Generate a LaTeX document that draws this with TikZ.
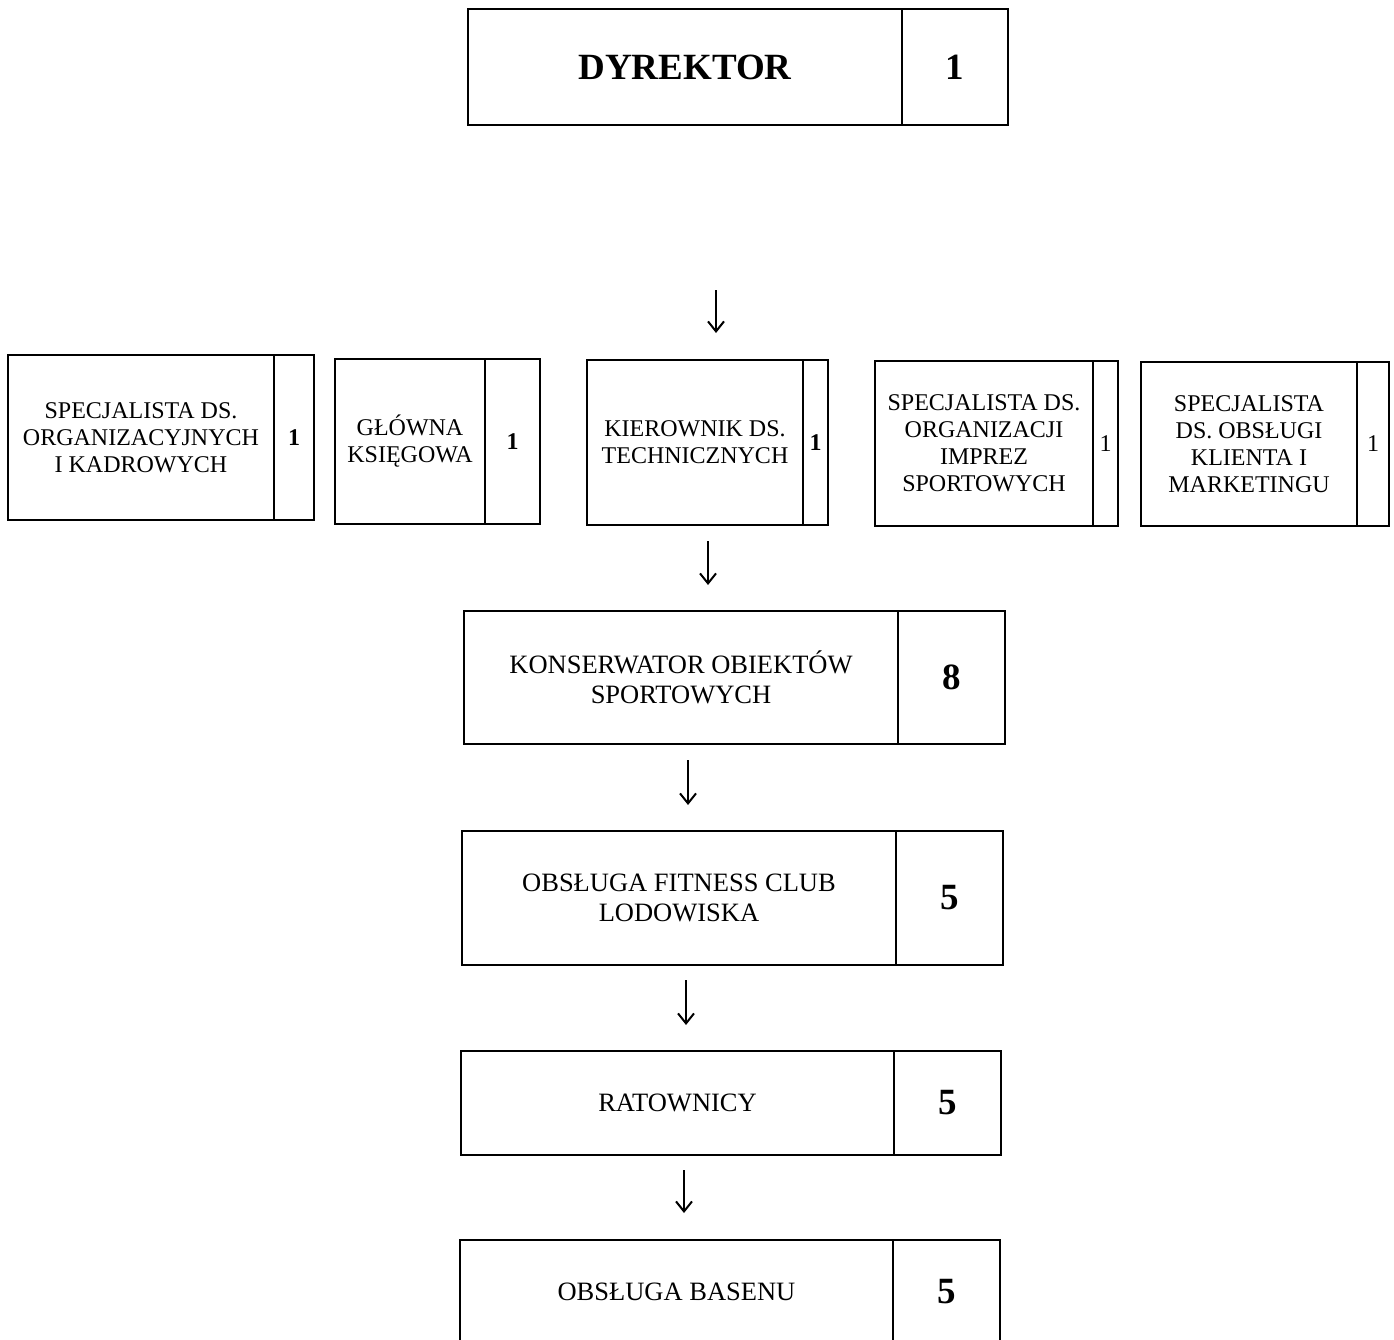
\documentclass[tikz,border=0pt]{standalone}
\usepackage{fontspec}
\setmainfont{Liberation Serif}
\usetikzlibrary{positioning,arrows.meta}
\tikzset{
  unitbox/.style={draw, line width=1.4pt, inner sep=0pt, outer sep=0pt, align=center},
  numbox/.style={draw, line width=1.4pt, inner sep=0pt, outer sep=0pt},
  downarrow/.style={line width=1.8pt, -{Straight Barb[length=10pt,width=16pt,line width=2pt]}},
  rowfont/.style={font=\fontsize{24}{27}\selectfont},
  rowbold/.style={font=\fontsize{24}{27}\selectfont\bfseries},
  colfont/.style={font=\fontsize{26.5}{30}\selectfont},
  bigfont/.style={font=\fontsize{37}{40}\selectfont\bfseries},
}
\begin{document}
\begin{tikzpicture}[x=1pt,y=-1pt]
    \clip (0,0) rectangle (1394,1340);
    % dyrektor
    \node[unitbox,bigfont,minimum width=434pt,minimum height=116pt] (dyr) at (685,67) {DYREKTOR};
    \node[numbox,bigfont,minimum width=106pt,minimum height=116pt,right=0pt of dyr] (dyrN) {1};
    % stanowiska samodzielne
    \node[unitbox,rowfont,minimum width=266pt,minimum height=165pt] (spk) at (141,437.5) {SPECJALISTA DS.\\ORGANIZACYJNYCH\\I KADROWYCH};
    \node[numbox,rowbold,minimum width=40pt,minimum height=165pt,right=0pt of spk] (spkN) {1};
    \node[unitbox,rowfont,minimum width=150pt,minimum height=165pt] (ksg) at (410,441.5) {GŁÓWNA\\KSIĘGOWA};
    \node[numbox,rowbold,minimum width=55pt,minimum height=165pt,right=0pt of ksg] (ksgN) {1};
    \node[unitbox,rowfont,minimum width=216pt,minimum height=165pt] (kdt) at (695,442.5) {KIEROWNIK DS.\\TECHNICZNYCH};
    \node[numbox,rowbold,minimum width=25pt,minimum height=165pt,right=0pt of kdt] (kdtN) {1};
    \node[unitbox,rowfont,minimum width=218pt,minimum height=165pt] (imp) at (984,443.5) {SPECJALISTA DS.\\ORGANIZACJI\\IMPREZ\\SPORTOWYCH};
    \node[numbox,rowfont,minimum width=25pt,minimum height=165pt,right=0pt of imp] (impN) {1};
    \node[unitbox,rowfont,minimum width=216pt,minimum height=164pt] (mkt) at (1249,444) {SPECJALISTA\\DS. OBSŁUGI\\KLIENTA I\\MARKETINGU};
    \node[numbox,rowfont,minimum width=32pt,minimum height=164pt,right=0pt of mkt] (mktN) {1};
    % dzial techniczny
    \node[unitbox,colfont,minimum width=434pt,minimum height=133pt] (kon) at (681,677.5) {KONSERWATOR OBIEKTÓW\\SPORTOWYCH};
    \node[numbox,bigfont,minimum width=107pt,minimum height=133pt,right=0pt of kon] (konN) {8};
    \node[unitbox,colfont,minimum width=434pt,minimum height=134pt] (fit) at (679,898) {OBSŁUGA FITNESS CLUB\\LODOWISKA};
    \node[numbox,bigfont,minimum width=107pt,minimum height=134pt,right=0pt of fit] (fitN) {5};
    \node[unitbox,colfont,minimum width=433pt,minimum height=104pt] (rat) at (677.5,1103) {RATOWNICY};
    \node[numbox,bigfont,minimum width=107pt,minimum height=104pt,right=0pt of rat] (ratN) {5};
    \node[unitbox,colfont,minimum width=433pt,minimum height=104pt] (bas) at (676.5,1292) {OBSŁUGA BASENU};
    \node[numbox,bigfont,minimum width=107pt,minimum height=104pt,right=0pt of bas] (basN) {5};
    % strzalki
    \coordinate (a1s) at (716,290);  \coordinate (a1e) at (716,333);
    \coordinate (a2s) at (708,541);  \coordinate (a2e) at (708,585);
    \coordinate (a3s) at (688,760);  \coordinate (a3e) at (688,805);
    \coordinate (a4s) at (686,980);  \coordinate (a4e) at (686,1025);
    \coordinate (a5s) at (684,1170); \coordinate (a5e) at (684,1213);
    \foreach \i in {1,...,5}
        \draw[downarrow] (a\i s) -- (a\i e);
\end{tikzpicture}
\end{document}
